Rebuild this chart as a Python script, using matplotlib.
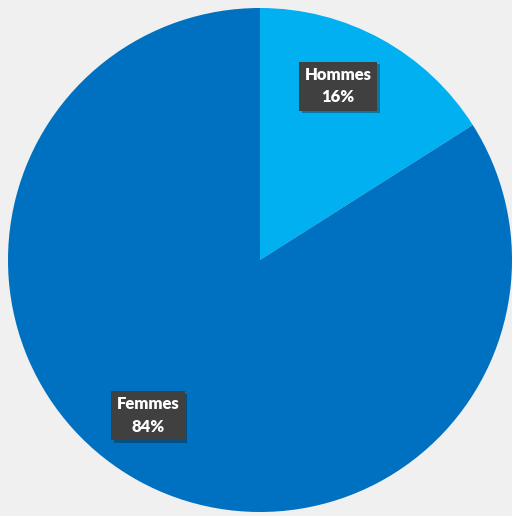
import matplotlib.pyplot as plt
import matplotlib.patheffects as pe

labels = ["Hommes", "Femmes"]
shares = [16, 84]
colors = ["#00b0f0", "#0070c0"]

# where the label boxes sit (data coords, radius = 1)
label_pos = [(0.31, 0.69), (-0.445, -0.617)]


def main():
    fig = plt.figure(figsize=(5.12, 5.16), dpi=100, facecolor="#f0f0f0")
    ax = fig.add_axes([0, 0, 1, 1])
    ax.set_facecolor("#f0f0f0")

    r = 252.0
    ax.pie(shares, colors=colors, startangle=90, counterclock=False,
           radius=1.0, wedgeprops=dict(linewidth=0))
    ax.set_aspect("auto")
    ax.set_xlim(-260 / r, (512 - 260) / r)
    ax.set_ylim(-256 / r, 260 / r)
    ax.axis("off")

    for name, val, (x, y) in zip(labels, shares, label_pos):
        t = ax.text(x, y, f"{name}\n{val}%", ha="center", va="center",
                    fontsize=12, fontweight="heavy", color="white",
                    family="Lato", linespacing=1.5,
                    bbox=dict(boxstyle="square,pad=0.32", fc="#404040", ec="none"))
        t.get_bbox_patch().set_path_effects(
            [pe.SimplePatchShadow(offset=(2, -2), alpha=0.35), pe.Normal()])

    fig.savefig("out.png", dpi=100, facecolor=fig.get_facecolor())


if __name__ == "__main__":
    main()
